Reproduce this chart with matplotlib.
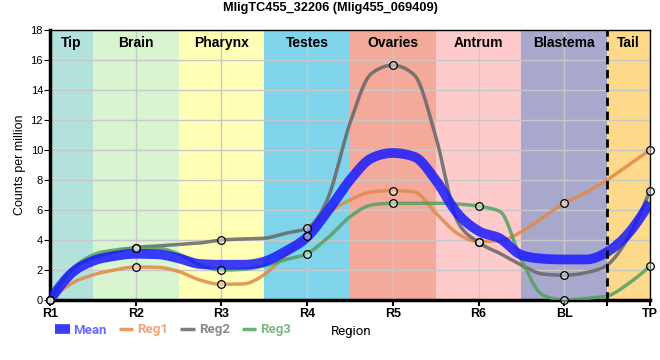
import numpy as np
import matplotlib
matplotlib.use("Agg")
import matplotlib.pyplot as plt
from matplotlib.lines import Line2D

plt.rcParams['font.family'] = ['Liberation Sans', 'DejaVu Sans']

title = "MligTC455_32206 (Mlig455_069409)"
ticks = ["R1", "R2", "R3", "R4", "R5", "R6", "BL", "TP"]
regions = ["Tip", "Brain", "Pharynx", "Testes", "Ovaries", "Antrum", "Blastema", "Tail"]
region_colors = ["#b3e2dd", "#d8f5cf", "#ffffb6", "#7fd4ea", "#f4aa9a", "#fdcbcb", "#a8a8cc", "#fdd98b"]

# measured values at the region ticks (markers)
reg1 = [0.0, 2.2, 1.05, 4.3, 7.3, 3.9, 6.45, 10.0]
reg2 = [0.0, 3.5, 4.0, 4.8, 15.65, 3.85, 1.65, 7.3]
reg3 = [0.0, 3.45, 2.0, 3.1, 6.45, 6.25, 0.0, 2.25]

# smoothed curves every quarter step (R1, R1.25, R1.5, ...)
curve_pos = [0, 0.25, 0.5, 0.75, 1, 1.25, 1.5, 1.75, 2, 2.25, 2.5, 2.75, 3, 3.25, 3.5,
             3.75, 4, 4.25, 4.5, 4.75, 5, 5.25, 5.5, 5.75, 6, 6.25, 6.5, 6.75, 7]
reg1_curve = [0.0, 1.1, 1.67, 2.0, 2.2, 2.18, 1.9, 1.33, 1.05, 1.07, 1.7, 3.0, 4.3, 5.8, 6.67,
              7.2, 7.3, 7.2, 5.8, 4.45, 3.9, 3.95, 4.55, 5.5, 6.45, 7.15, 8.0, 9.0, 10.0]
reg2_curve = [0.0, 2.0, 2.8, 3.2, 3.5, 3.6, 3.7, 3.8, 4.0, 4.07, 4.12, 4.45, 4.8, 6.9, 11.8,
              15.1, 15.65, 15.0, 10.9, 5.3, 3.85, 3.1, 2.33, 1.73, 1.65, 1.82, 2.33, 4.2, 7.3]
reg3_curve = [0.0, 2.0, 3.0, 3.33, 3.45, 3.45, 3.07, 2.33, 2.0, 2.05, 2.27, 2.7, 3.1, 4.2, 5.55,
              6.33, 6.45, 6.45, 6.45, 6.4, 6.25, 5.9, 2.67, 0.33, 0.0, 0.1, 0.27, 1.1, 2.25]
mean_curve = [0.0, 1.78, 2.6, 2.93, 3.08, 3.05, 2.78, 2.4, 2.35, 2.35, 2.56, 3.25, 4.2, 6.0, 8.0,
              9.45, 9.8, 9.55, 8.0, 5.8, 4.6, 4.1, 3.0, 2.75, 2.7, 2.7, 3.2, 4.45, 6.5]


def monotone_curve(x, y, n=30):
    y = np.asarray(y, float)
    x = np.asarray(x, float)
    h = np.diff(x)
    s = np.diff(y) / h
    m = np.zeros(len(y))
    for i in range(1, len(y) - 1):
        s0, s1 = s[i - 1], s[i]
        p = (s0 * h[i] + s1 * h[i - 1]) / (h[i - 1] + h[i])
        m[i] = (np.sign(s0) + np.sign(s1)) * min(abs(s0), abs(s1), 0.5 * abs(p))
    m[0] = (3 * s[0] - m[1]) / 2
    m[-1] = (3 * s[-1] - m[-2]) / 2
    xs, ys = [], []
    for i in range(len(y) - 1):
        t = np.linspace(0, 1, n)
        dx = h[i]
        h00 = 2 * t**3 - 3 * t**2 + 1
        h10 = t**3 - 2 * t**2 + t
        h01 = -2 * t**3 + 3 * t**2
        h11 = t**3 - t**2
        xs.extend(x[i] + t * dx)
        ys.extend(h00 * y[i] + h10 * dx * m[i] + h01 * y[i + 1] + h11 * dx * m[i + 1])
    return np.array(xs), np.array(ys)


fig = plt.figure(figsize=(6.6, 3.6), dpi=100)
ax = fig.add_axes([50 / 660, 60 / 360, 600 / 660, 270 / 360])
n = len(ticks)
x = np.arange(n)
ax.set_xlim(0, n - 1)
ax.set_ylim(0, 18)

bounds = [0, 0.5, 1.5, 2.5, 3.5, 4.5, 5.5, 6.5, 7]
for i, (name, c) in enumerate(zip(regions, region_colors)):
    ax.axvspan(bounds[i], bounds[i + 1], color=c, zorder=0, lw=0)
    ax.text((bounds[i] + bounds[i + 1]) / 2, 17.6, name, ha='center', va='top',
            fontsize=10, fontweight='bold', zorder=5)

ax.set_yticks(np.arange(0, 19, 2))
ax.set_xticks(x)
ax.set_xticklabels(ticks, fontweight='bold', fontsize=9)
ax.set_xticks([6.5], minor=True)
ax.tick_params(axis='x', which='both', length=4, width=1.5, pad=2)
ax.tick_params(axis='y', labelsize=8, length=4, pad=1)
ax.grid(True, color='#c8c8c8', lw=1, zorder=1)
ax.set_axisbelow(True)
ax.axvline(6.5, color='black', lw=2, ls=(0, (3, 2)), zorder=6)
for sp in ['left', 'bottom']:
    ax.spines[sp].set_linewidth(2.5)
for sp in ['top', 'right']:
    ax.spines[sp].set_linewidth(1)

series = [("Reg1", reg1, reg1_curve, "#e08a48"),
          ("Reg2", reg2, reg2_curve, "#666666"),
          ("Reg3", reg3, reg3_curve, "#55a060")]
for name, vals, curve, c in series:
    cx, cy = monotone_curve(curve_pos, curve)
    ax.plot(cx, cy, color=c, lw=2.5, alpha=0.85, zorder=3)
mx, my = monotone_curve(curve_pos, mean_curve)
ax.plot(mx, my, color='#1a1aff', lw=7, alpha=0.85, zorder=4, solid_capstyle='butt')
for name, vals, curve, c in series:
    ax.plot(x, vals, 'o', ms=5.5, mfc=(1, 1, 1, 0.45), mec='black', mew=0.9, zorder=7, clip_on=False)

fig.text(0.5, 1 - 8.5 / 360, title, fontsize=9.2, fontweight='bold', ha='center', va='center')
ax.set_ylabel("Counts per million", fontsize=9)
ax.yaxis.set_label_coords(-24 / 600, 0.5)

handles = [Line2D([], [], color='#1a1aff', lw=7, alpha=0.85, solid_capstyle='butt')] + \
    [Line2D([], [], color=c, lw=2.5, alpha=0.85, solid_capstyle='butt') for _, _, _, c in series]
labels = ["Mean", "Reg1", "Reg2", "Reg3"]
leg = fig.legend(handles, labels, loc='center left', bbox_to_anchor=(55 / 660, 1 - 330 / 360),
                 ncol=4, frameon=False, handlelength=1.1, handletextpad=0.3, columnspacing=0.9,
                 prop={'family': ['Roboto', 'DejaVu Sans'], 'weight': 'bold', 'size': 9.5},
                 borderpad=0, borderaxespad=0)
tcols = ['#6a6aff', '#eba57a', '#8a8a8a', '#7cb886']
for t, c in zip(leg.get_texts(), tcols):
    t.set_color(c)
fig.text(331 / 660, 1 - 332 / 360, "Region", fontsize=9.5, va='center', ha='left',
         family=['Roboto', 'DejaVu Sans'])

fig.savefig("out.png", dpi=100)
